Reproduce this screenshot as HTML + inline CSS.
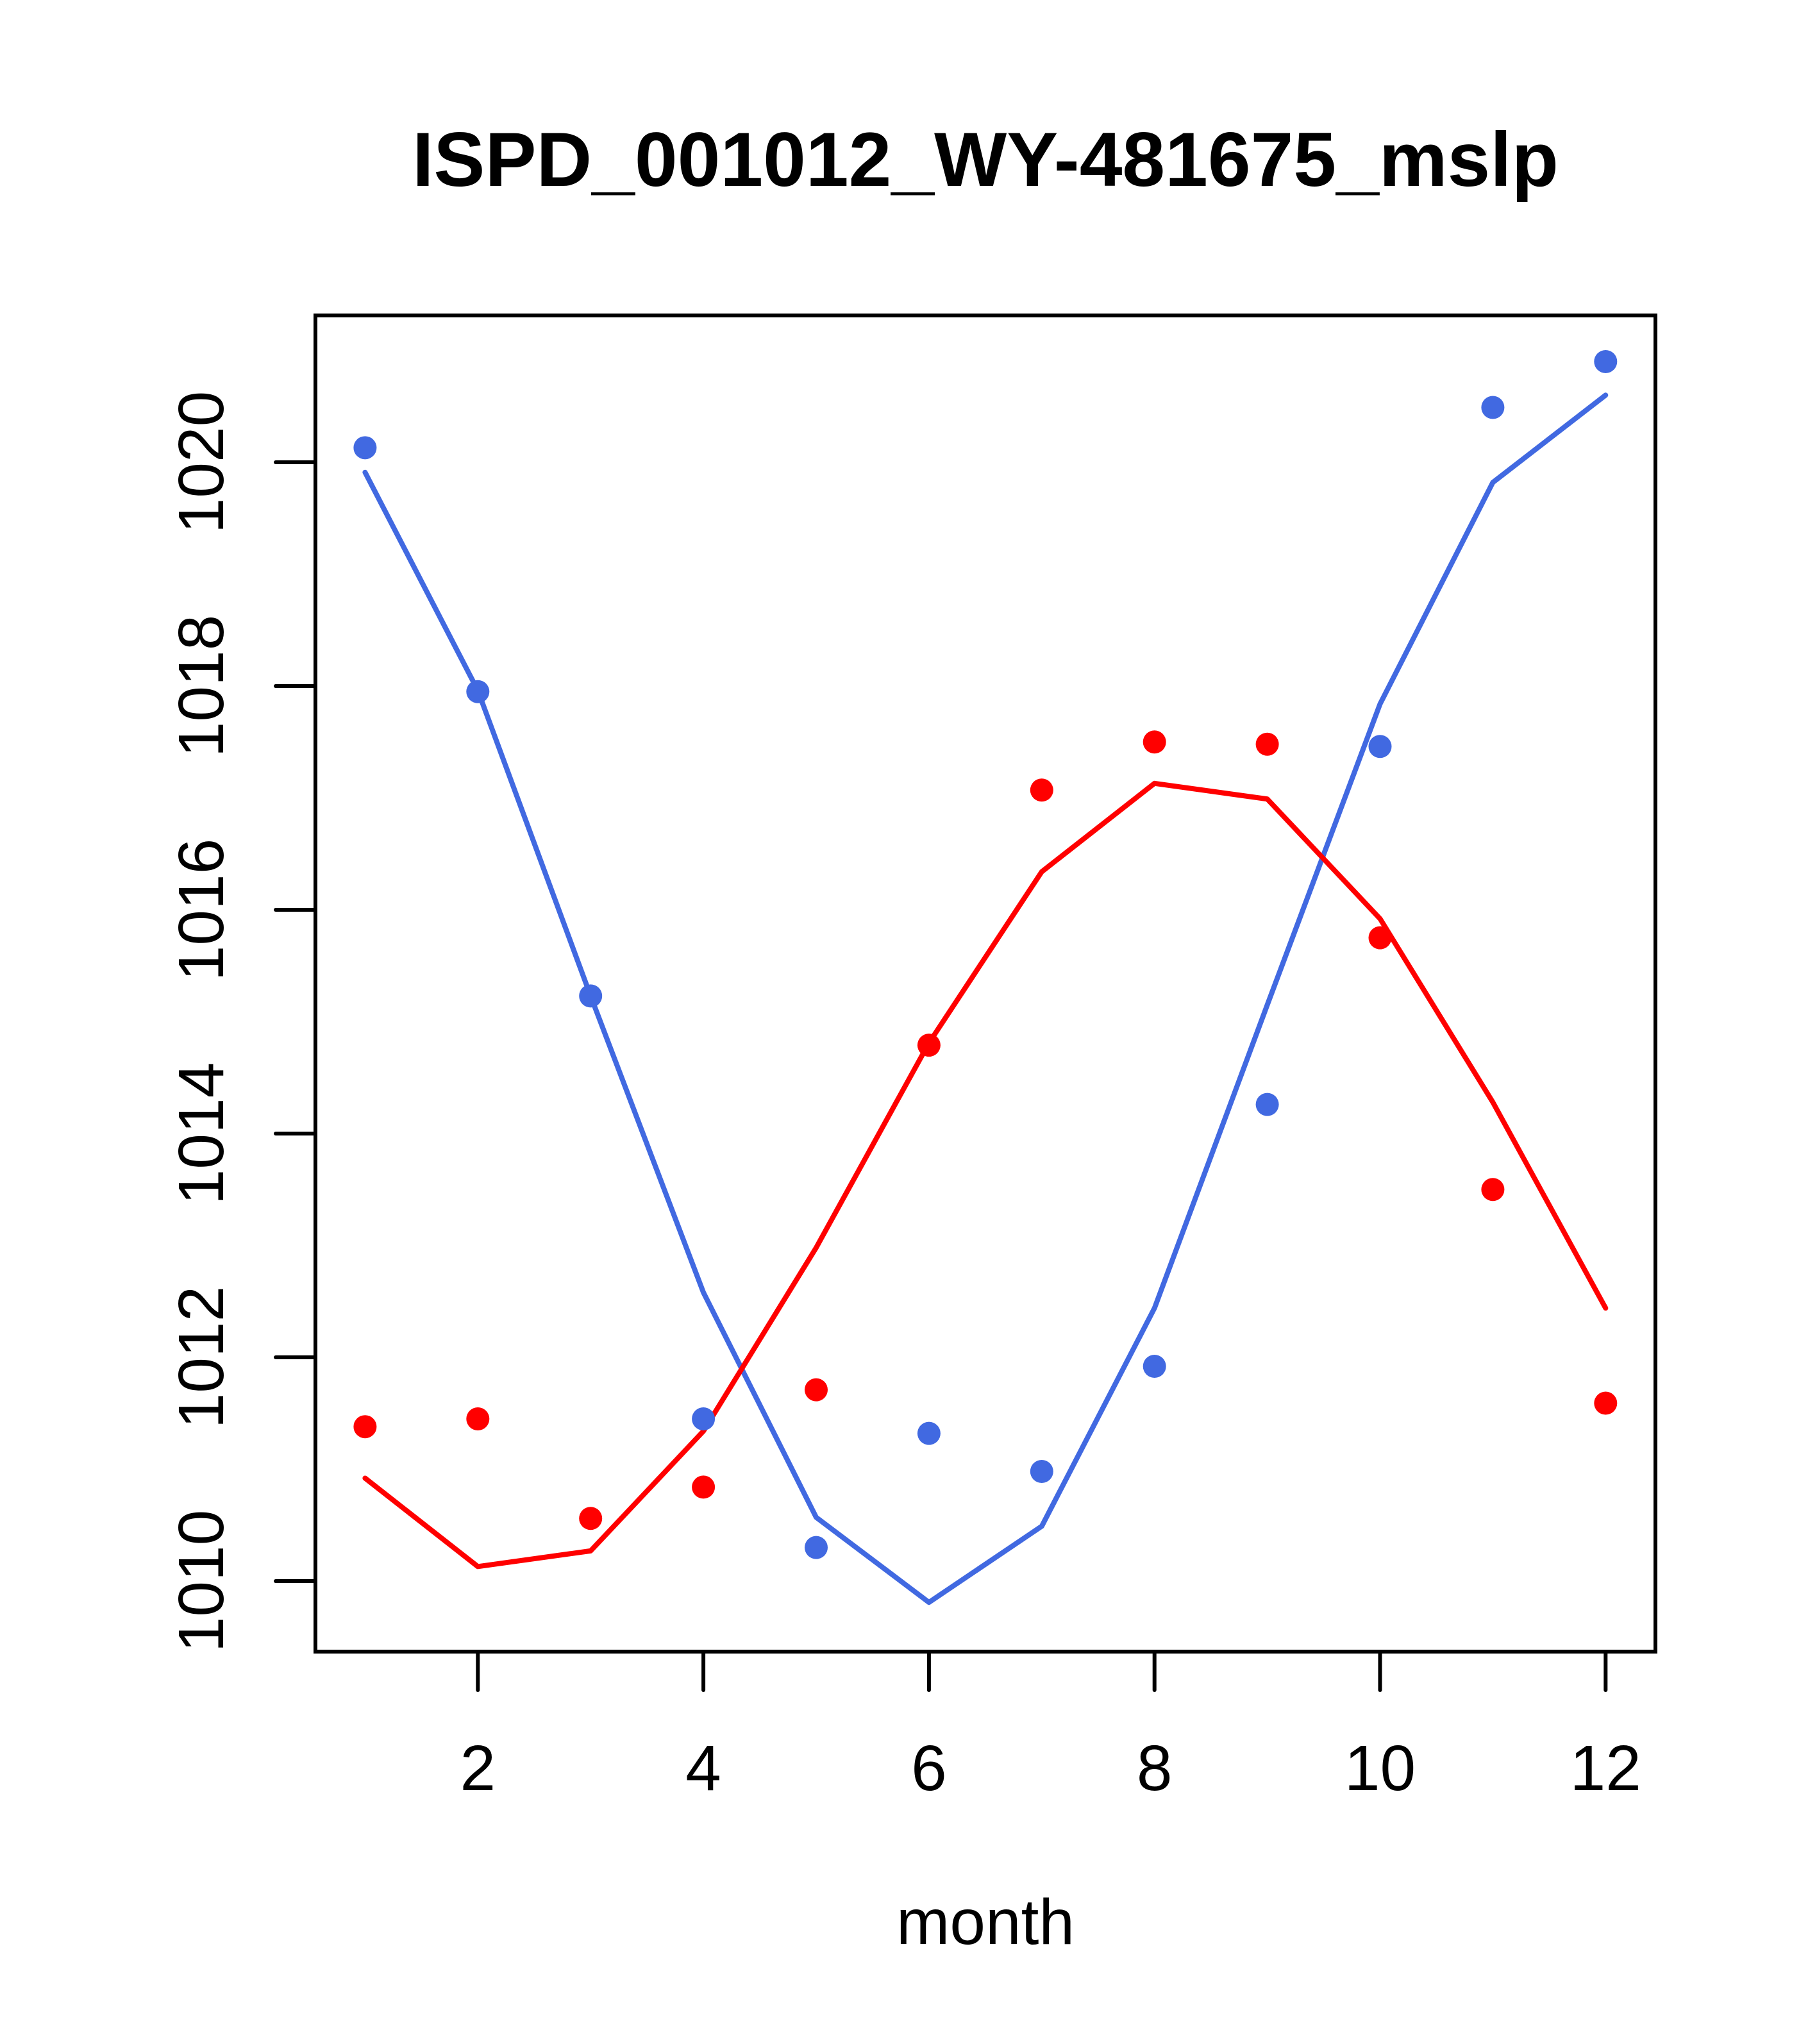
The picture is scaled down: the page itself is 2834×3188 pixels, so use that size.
<!DOCTYPE html>
<html><head><meta charset="utf-8"><style>
html,body{margin:0;padding:0;background:#fff;}
svg{display:block;font-family:"Liberation Sans",Arial,sans-serif;}
</style></head><body>
<svg id="chart" width="2834" height="3188" viewBox="0 0 2834 3188" xmlns="http://www.w3.org/2000/svg">
<rect width="2834" height="3188" fill="#fff"/>
<text x="1537" y="290" text-anchor="middle" font-size="120" font-weight="bold">ISPD_001012_WY-481675_mslp</text>
<text x="1537" y="3032" text-anchor="middle" font-size="100">month</text>
<g id="axes"></g>
<g id="marks"></g>
<rect x="492" y="492" width="2090" height="2084" fill="none" stroke="#000" stroke-width="6"/>
</svg>
<script>
const months = [1,2,3,4,5,6,7,8,9,10,11,12];
const bluePoints = [1020.13,1017.95,1015.23,1011.45,1010.30,1011.32,1010.98,1011.92,1014.26,1017.46,1020.49,1020.90];
const blueLine = [1019.91,1017.96,1015.23,1012.58,1010.57,1009.81,1010.49,1012.44,1015.15,1017.84,1019.82,1020.60];
const redPoints = [1011.38,1011.45,1010.56,1010.84,1011.71,1014.79,1017.07,1017.50,1017.48,1015.75,1013.50,1011.59];
const redLine = [1010.92,1010.13,1010.27,1011.34,1012.98,1014.81,1016.34,1017.13,1016.99,1015.92,1014.28,1012.44];
const xTicks = [2,4,6,8,10,12];
const yTicks = [1010,1012,1014,1016,1018,1020];

const NS = "http://www.w3.org/2000/svg";
function xs(v){ return 569.4 + (v-1)*175.9; }
function ys(v){ return 721 + (1020-v)*174.5; }
function mk(tag, attrs, parent){
  const e = document.createElementNS(NS, tag);
  for (const k in attrs) e.setAttribute(k, attrs[k]);
  parent.appendChild(e); return e;
}
const axes = document.getElementById('axes');
const marks = document.getElementById('marks');
xTicks.forEach(t=>{
  const l = mk('line',{x1:xs(t),x2:xs(t),y1:2576,y2:2636,stroke:'#000','stroke-width':6,'stroke-linecap':'round'},axes);
  
  
  const tx = mk('text',{x:xs(t),y:2792,'text-anchor':'middle','font-size':100},axes);
  tx.textContent = t;
  
  
});
yTicks.forEach(t=>{
  const l = mk('line',{x1:430,x2:492,y1:ys(t),y2:ys(t),stroke:'#000','stroke-width':6,'stroke-linecap':'round'},axes);
  
  
  const tx = mk('text',{x:0,y:0,'text-anchor':'middle','font-size':100,transform:`translate(348,${ys(t)}) rotate(-90)`},axes);
  tx.textContent = t;
  
  
});
function drawLine(vals, color, name){
  const p = mk('polyline',{points:vals.map((v,i)=>xs(months[i])+','+ys(v)).join(' '),fill:'none',stroke:color,'stroke-width':8,'stroke-linejoin':'round','stroke-linecap':'round'},marks);
  
  
}
function drawPts(vals, color, name){
  vals.forEach((v,i)=>{
    const c = mk('circle',{cx:xs(months[i]),cy:ys(v),r:18,fill:color},marks);
    
    
  });
}
drawLine(blueLine,'#4169E1','blue-fit-line');
drawLine(redLine,'#FF0000','red-fit-line');
drawPts(bluePoints,'#4169E1','blue-point');
drawPts(redPoints,'#FF0000','red-point');
</script>
</body></html>
